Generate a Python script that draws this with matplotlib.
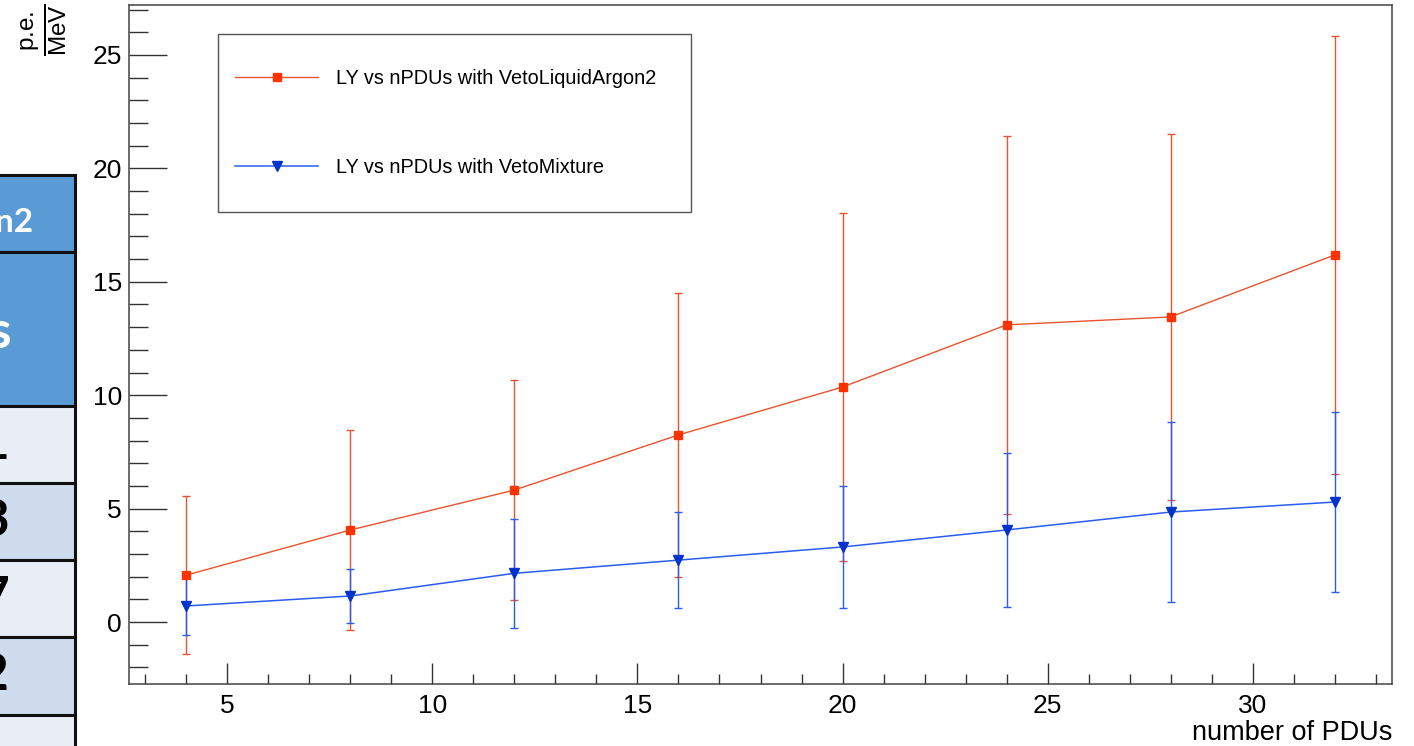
import matplotlib
matplotlib.use("Agg")
import matplotlib.pyplot as plt
from matplotlib.patches import Rectangle
from matplotlib.ticker import MultipleLocator

plt.rcParams["font.family"] = ["Liberation Sans", "DejaVu Sans"]
plt.rcParams["mathtext.fontset"] = "custom"
plt.rcParams["mathtext.rm"] = "Liberation Sans"
plt.rcParams["mathtext.it"] = "Liberation Sans:italic"

# light yield vs number of PDUs
n_pdus = [4, 8, 12, 16, 20, 24, 28, 32]
ly_argon = [2.07, 4.06, 5.82, 8.25, 10.36, 13.10, 13.45, 16.18]
err_argon = [3.49, 4.41, 4.85, 6.26, 7.67, 8.33, 8.07, 9.66]
ly_mixture = [0.71, 1.15, 2.15, 2.73, 3.31, 4.06, 4.85, 5.29]
err_mixture = [1.27, 1.17, 2.40, 2.10, 2.70, 3.40, 3.95, 3.97]

label_argon = "LY vs nPDUs with VetoLiquidArgon2"
label_mixture = "LY vs nPDUs with VetoMixture"

# cropped slide table on the left edge
table_header = ["n2", "s"]
table_body = ["1", "3", "7", "2", "1"]

W, H = 1414, 746
fig = plt.figure(figsize=(W / 100, H / 100), dpi=100)

# background layer in pixel coords for the table fragment
bg = fig.add_axes([0, 0, 1, 1], zorder=-1)
bg.set_xlim(0, W)
bg.set_ylim(H, 0)
bg.axis("off")

header_rows = [(175, 252), (252, 406)]
body_rows = [(406, 483), (483, 560), (560, 637), (637, 715), (715, 800)]
body_colors = ["#e9eef6", "#cfdcee", "#e9eef6", "#cfdcee", "#e9eef6"]
for (y0, y1) in header_rows:
    bg.add_patch(Rectangle((-5, y0), 80, y1 - y0, facecolor="#5b9bd5",
                           edgecolor="#111111", lw=2.2))
for (y0, y1), c in zip(body_rows, body_colors):
    bg.add_patch(Rectangle((-5, y0), 80, y1 - y0, facecolor=c,
                           edgecolor="#111111", lw=2.2))

bg.text(33, 222, table_header[0], color="white", fontsize=24,
        fontweight="bold", family=["Lato", "DejaVu Sans"], ha="right", va="center")
bg.text(11, 334, table_header[1], color="white", fontsize=37,
        fontweight="bold", family=["Lato", "DejaVu Sans"], ha="right", va="center")
for (y0, y1), t in zip(body_rows, table_body):
    yc = y0 + 77 / 2
    bg.text(9, yc, t, color="black", fontsize=37, fontweight="bold",
            family=["Lato", "DejaVu Sans"], ha="right", va="center")

# main plot
ax = fig.add_axes([129 / W, 62 / H, 1263 / W, 679 / H])
ax.set_xlim(2.6, 33.4)
ax.set_ylim(-2.73, 27.2)

red_marker, red_line = "#ff3300", "#e8542e"
blue_marker, blue_line = "#0033cc", "#2a5cf0"

ax.errorbar(n_pdus, ly_argon, yerr=err_argon, fmt="none", ecolor=red_line,
            elinewidth=1, capsize=3, capthick=1)
ax.errorbar(n_pdus, ly_mixture, yerr=err_mixture, fmt="none", ecolor=blue_line,
            elinewidth=1, capsize=3, capthick=1)
l1, = ax.plot(n_pdus, ly_argon, color=red_line, lw=1, marker="s", ms=5.5,
              mfc=red_marker, mec=red_marker, label=label_argon)
l2, = ax.plot(n_pdus, ly_mixture, color=blue_line, lw=1.1, marker="v", ms=6.5,
              mfc=blue_marker, mec=blue_marker, label=label_mixture)

ax.xaxis.set_major_locator(MultipleLocator(5))
ax.xaxis.set_minor_locator(MultipleLocator(1))
ax.yaxis.set_major_locator(MultipleLocator(5))
ax.yaxis.set_minor_locator(MultipleLocator(1))
ax.tick_params(which="both", direction="in", top=False, right=False,
               color="#333333", width=1, labelsize=19)
ax.tick_params(axis="x", which="major", length=15, pad=7.5)
ax.tick_params(axis="x", which="minor", length=7.2)
ax.tick_params(axis="y", which="major", length=27.4, pad=5)
ax.tick_params(axis="y", which="minor", length=13.7)
for s in ax.spines.values():
    s.set_color("#444444")
    s.set_linewidth(1.1)

ax.set_xlabel("number of PDUs", loc="right", fontsize=19.5, labelpad=1)
fig.text(44 / W, 1 - 4 / H, r"$\frac{\text{p.e.}}{\text{MeV}}$",
         rotation=90, ha="center", va="top", fontsize=25)

# legend box (ROOT style)
ax.add_patch(Rectangle(((218 - 129) / 1263, (684 - 212) / 679), 473 / 1263,
                       178 / 679, transform=ax.transAxes, fill=False,
                       edgecolor="#555555", lw=1, zorder=5))
ax.legend(handles=[l1, l2], loc="upper left",
          bbox_to_anchor=((235 - 129) / 1263, (684 - 69) / 679),
          frameon=False, fontsize=14.3, borderpad=0, borderaxespad=0,
          handlelength=4.2, handletextpad=0.9, labelspacing=3.5, numpoints=1)

fig.savefig("out.png", dpi=100)
